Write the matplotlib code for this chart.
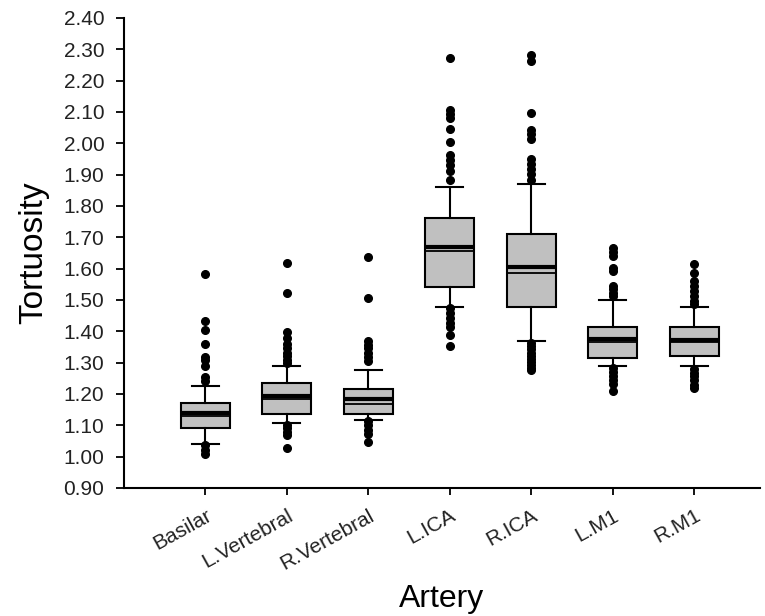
import matplotlib
matplotlib.use("Agg")
import matplotlib.pyplot as plt

plt.rcParams['font.family'] = ['Liberation Sans', 'DejaVu Sans']

arteries = ["Basilar", "L.Vertebral", "R.Vertebral", "L.ICA", "R.ICA", "L.M1", "R.M1"]

# box statistics
q1 = [1.092, 1.136, 1.136, 1.542, 1.476, 1.313, 1.321]
q3 = [1.172, 1.234, 1.217, 1.762, 1.709, 1.413, 1.413]
medians = [1.130, 1.183, 1.167, 1.655, 1.585, 1.364, 1.366]
means = [1.138, 1.194, 1.185, 1.668, 1.605, 1.375, 1.373]
whis_lo = [1.039, 1.106, 1.117, 1.478, 1.368, 1.288, 1.288]
whis_hi = [1.226, 1.288, 1.277, 1.859, 1.870, 1.498, 1.477]

outliers = [
    [1.582, 1.432, 1.405, 1.359, 1.317, 1.309, 1.288, 1.253, 1.242,
     1.037, 1.021, 1.007],
    [1.619, 1.523, 1.398, 1.377, 1.359, 1.347, 1.330, 1.320, 1.309, 1.298,
     1.101, 1.090, 1.079, 1.069, 1.028],
    [1.638, 1.507, 1.370, 1.357, 1.345, 1.330, 1.317, 1.304,
     1.112, 1.101, 1.085, 1.071, 1.047],
    [2.271, 2.105, 2.092, 2.082, 2.046, 2.004, 1.961, 1.945, 1.929, 1.911, 1.881,
     1.475, 1.459, 1.443, 1.427, 1.413, 1.389, 1.352],
    [2.281, 2.263, 2.096, 2.043, 2.028, 2.014, 1.950, 1.934, 1.918, 1.902, 1.881,
     1.362, 1.352, 1.342, 1.332, 1.322, 1.312, 1.302, 1.292, 1.282, 1.275],
    [1.667, 1.654, 1.640, 1.603, 1.592, 1.544, 1.534, 1.523, 1.512,
     1.281, 1.270, 1.258, 1.245, 1.231, 1.208],
    [1.616, 1.587, 1.560, 1.544, 1.528, 1.512, 1.496, 1.486,
     1.280, 1.268, 1.257, 1.245, 1.229, 1.218],
]

yticks = [0.90, 1.00, 1.10, 1.20, 1.30, 1.40, 1.50, 1.60, 1.70, 1.80,
          1.90, 2.00, 2.10, 2.20, 2.30, 2.40]

stats = []
for i, name in enumerate(arteries):
    stats.append({
        'label': name,
        'q1': q1[i], 'q3': q3[i], 'med': medians[i], 'mean': means[i],
        'whislo': whis_lo[i], 'whishi': whis_hi[i], 'fliers': outliers[i],
    })

fig = plt.figure(figsize=(7.65, 6.16), dpi=100)
ax = fig.add_axes([0.162, 0.208, 0.831, 0.763])

ax.bxp(stats, positions=range(1, 8), widths=0.6, capwidths=0.33,
       patch_artist=True, showmeans=True, meanline=True,
       boxprops=dict(facecolor='#c0c0c0', edgecolor='black', linewidth=1.5),
       medianprops=dict(color='black', linewidth=1.3),
       meanprops=dict(color='black', linewidth=3, linestyle='-'),
       whiskerprops=dict(color='black', linewidth=1.5),
       capprops=dict(color='black', linewidth=1.5),
       flierprops=dict(marker='o', markerfacecolor='black',
                       markeredgecolor='black', markersize=5.5))

ax.set_xlim(0, 7.8)
ax.set_ylim(0.90, 2.40)
ax.set_yticks(yticks)
ax.set_yticklabels([f"{v:.2f}" for v in yticks], fontsize=15, color='#222222')
ax.set_xticks(range(1, 8))
ax.set_xticklabels(arteries, rotation=29, ha='right', rotation_mode='anchor',
                   fontsize=15, color='#222222')
ax.tick_params(axis='y', length=6, width=1.3, pad=8)
ax.tick_params(axis='x', length=5, width=1.3, pad=8)

ax.spines['top'].set_visible(False)
ax.spines['right'].set_visible(False)
ax.spines['left'].set_linewidth(1.5)
ax.spines['bottom'].set_linewidth(1.5)

ax.set_ylabel("Tortuosity", fontsize=24, labelpad=10)
ax.set_xlabel("Artery", fontsize=23, labelpad=8)

fig.savefig("out.png", dpi=100)
